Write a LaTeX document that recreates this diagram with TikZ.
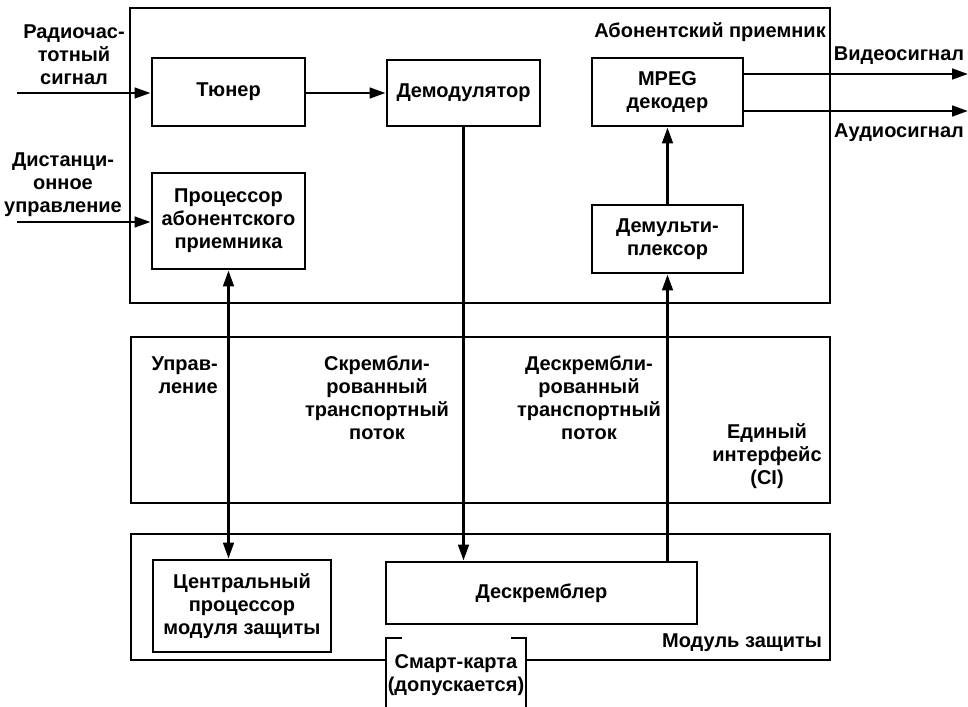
\documentclass[tikz,border=0pt]{standalone}
\usepackage{fontspec}
\setmainfont{Liberation Sans}
\usetikzlibrary{arrows.meta}

\begin{document}
\begin{tikzpicture}[x=0.75pt,y=0.75pt,yscale=-1,xscale=1,
  every node/.style={font=\fontsize{15}{17.25}\selectfont\bfseries},
  blk/.style={draw,line width=2.2pt,align=center,inner sep=2pt},
  frm/.style={draw,line width=1.8pt},
  txt/.style={align=center,inner sep=0pt},
  sig/.style={line width=2pt,-{Triangle[length=12pt,width=8pt]}},
  bisig/.style={line width=2pt,{Triangle[length=12pt,width=8pt]}-{Triangle[length=12pt,width=8pt]}}]
\useasboundingbox (0,0) rectangle (968,707);

%Shape: Rectangle [receiver frame]
\node (rcv) [frm,minimum width=525pt,minimum height=221.25pt] at (480,155.5) {};
%Shape: Rectangle [CI frame]
\node (ci) [frm,minimum width=524.25pt,minimum height=124.5pt] at (480.5,420) {};
%Shape: module frame, open at the card
\draw [line width=1.8pt] (386,660) -- (131,660) -- (131,534) -- (830,534) -- (830,660) -- (526,660) ;
%Shape: card brackets
\draw [line width=2pt] (402,638) -- (386,638) -- (386,707) ;
\draw [line width=2pt] (511,638) -- (526,638) -- (526,707) ;

%Blocks
\node (tuner) [blk,minimum width=114.75pt,minimum height=51pt] at (228.5,92) {Тюнер};
\node (demod) [blk,minimum width=114.75pt,minimum height=49.5pt] at (463.5,93) {Демодулятор};
\node (mpeg) [blk,minimum width=113.25pt,minimum height=51pt] at (667.5,92) {MPEG\\декодер};
\node (proc) [blk,minimum width=114.75pt,minimum height=72pt] at (228.5,221) {Процессор\\абонентского\\приемника};
\node (demux) [blk,minimum width=113.25pt,minimum height=51pt] at (667.5,239) {Демульти-\\плексор};
\node (cpu) [blk,minimum width=133.5pt,minimum height=69pt] at (242,606) {Центральный\\процессор\\модуля защиты};
\node (descr) [blk,minimum width=233.25pt,minimum height=46.5pt] at (541.5,593) {Дескремблер};

% Text Node
\node (rfin) [txt] at (74,55) {Радиочас-\\тотный\\сигнал};
\node (rcin) [txt] at (63,185) {Дистанци-\\онное\\управление};
\node (rcvname) [txt] at (710,32) {Абонентский приемник};
\node (video) [txt] at (899,56) {Видеосигнал};
\node (audio) [txt] at (899,133) {Аудиосигнал};
\node (ctl) [txt,align=right,anchor=east] at (218,375) {Управ-\\ление};
\node (scr) [txt] at (377,398) {Скрембли-\\рованный\\транспортный\\поток};
\node (dscr) [txt] at (589,398) {Дескрембли-\\рованный\\транспортный\\поток};
\node (ciname) [txt] at (767,456) {Единый\\интерфейс\\(CI)};
\node (modname) [txt] at (742,643) {Модуль защиты};
\node (card) [txt] at (456,675) {Смарт-карта\\(допускается)};

%Free ends
\coordinate (rfsrc) at (17,93);
\coordinate (rcsrc) at (17,222);
\coordinate (vidout) at (968,74);
\coordinate (audout) at (968,111);

%Connectors
\draw [sig] (rfsrc) -- (rfsrc -| tuner.west) ;
\draw [sig] (rcsrc) -- (rcsrc -| proc.west) ;
\draw [sig] (tuner.east |- demod.west) -- (demod.west) ;
\draw [sig] (mpeg.east |- vidout) -- (vidout) ;
\draw [sig] (mpeg.east |- audout) -- (audout) ;
\draw [sig] (demux.north) -- (mpeg.south) ;
\draw [bisig] (proc.south) -- (proc.south |- cpu.north) ;
\draw [sig] (demod.south) -- (demod.south |- descr.north) ;
\draw [sig] (descr.north -| demux.south) -- (demux.south) ;

\end{tikzpicture}
\end{document}
